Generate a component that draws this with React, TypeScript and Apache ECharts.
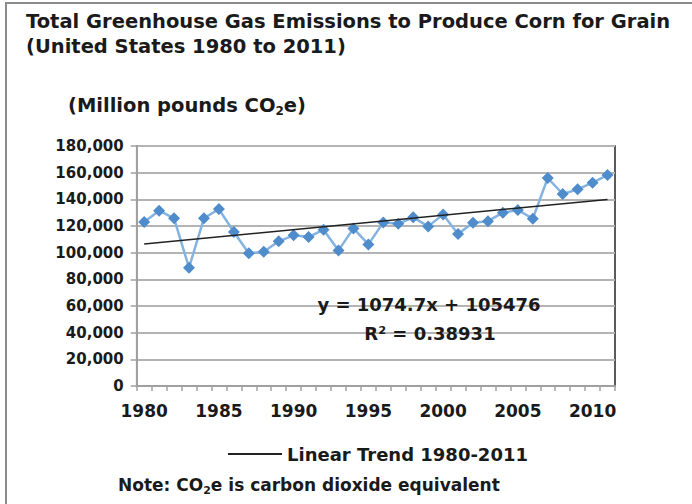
import React, { useEffect, useRef } from "react";
import * as echarts from "echarts";

const years: string[] = [
  "1980", "1981", "1982", "1983", "1984", "1985", "1986", "1987", "1988", "1989",
  "1990", "1991", "1992", "1993", "1994", "1995", "1996", "1997", "1998", "1999",
  "2000", "2001", "2002", "2003", "2004", "2005", "2006", "2007", "2008", "2009",
  "2010", "2011",
];

const emissions: number[] = [
  123000, 131500, 125800, 88700, 125800, 132700, 115500, 99500, 100700, 108500,
  113000, 111700, 117200, 101700, 118200, 106200, 122700, 121700, 126500, 119700,
  128700, 114000, 122500, 123600, 130000, 132000, 125500, 156000, 144000, 147500,
  152500, 158200,
];

// Linear trend endpoints (from y = 1074.7x + 105476, x = 1 and x = 32)
const trendStart = 106551;
const trendEnd = 139866;

const yTicks = { min: 0, max: 180000, interval: 20000 };

const titleLines = [
  "Total Greenhouse Gas Emissions to Produce Corn for Grain",
  "(United States 1980 to 2011)",
];
const equationText = "y = 1074.7x + 105476";
const r2Text = "R² = 0.38931";
const trendName = "Linear Trend 1980-2011";

const FONT = "'DejaVu Sans', 'Liberation Sans', Arial, sans-serif";
const TXT = "#1a1a1a";

export default function App() {
  const ref = useRef<HTMLDivElement>(null);

  useEffect(() => {
    if (!ref.current) return;
    const chart = echarts.init(ref.current, null, { renderer: "svg" });
    const last = years.length - 1;
    const trendData = years.map((_, i) =>
      i === 0 ? trendStart : i === last ? trendEnd : null
    );

    chart.setOption({
      animation: false,
      backgroundColor: "#ffffff",
      textStyle: { fontFamily: FONT },
      grid: {
        left: 136.7,
        right: 77,
        top: 146,
        bottom: 118,
        show: true,
        borderColor: "#262626",
        borderWidth: 1.5,
        backgroundColor: "transparent",
      },
      legend: {
        data: [{ name: trendName, icon: "rect" }],
        left: 228,
        top: 445,
        padding: 0,
        itemWidth: 54,
        itemHeight: 2,
        itemGap: 6,
        textStyle: {
          fontFamily: FONT,
          fontWeight: "bold",
          fontSize: 18,
          color: TXT,
        },
      },
      xAxis: {
        type: "category",
        data: years,
        boundaryGap: true,
        axisLine: { show: true, lineStyle: { color: "#a0a0a0", width: 2 } },
        axisTick: {
          show: true,
          interval: 0,
          length: 5,
          lineStyle: { color: "#a0a0a0", width: 1.5 },
        },
        axisLabel: {
          interval: 4,
          margin: 16,
          fontFamily: FONT,
          fontWeight: "bold",
          fontSize: 17,
          color: TXT,
        },
        splitLine: { show: false },
      },
      yAxis: {
        type: "value",
        min: yTicks.min,
        max: yTicks.max,
        interval: yTicks.interval,
        axisLine: { show: true, lineStyle: { color: "#a0a0a0", width: 2 } },
        axisTick: { show: true, length: 6, lineStyle: { color: "#a0a0a0", width: 1.5 } },
        axisLabel: {
          margin: 13,
          fontFamily: FONT,
          fontWeight: "bold",
          fontSize: 15,
          color: TXT,
          formatter: (v: number) => v.toLocaleString("en-US"),
        },
        splitLine: { show: true, lineStyle: { color: "#b4b4b4", width: 2 } },
      },
      series: [
        {
          name: "Emissions",
          type: "line",
          data: emissions,
          symbol: "diamond",
          symbolSize: 12,
          showAllSymbol: true,
          itemStyle: { color: "#4f8ccb" },
          lineStyle: { color: "#85b3e0", width: 2.5 },
          z: 3,
        },
        {
          name: trendName,
          type: "line",
          data: trendData,
          connectNulls: true,
          symbol: "none",
          itemStyle: { color: "#222222" },
          lineStyle: { color: "#222222", width: 1.5 },
          z: 4,
        },
      ],
      graphic: [
        {
          type: "rect",
          shape: { x: 6, y: 3, width: 720, height: 540 },
          style: { fill: "none", stroke: "#8c8c8c", lineWidth: 2 },
          silent: true,
          z: -10,
        },
        {
          type: "text",
          left: 26,
          top: 11,
          style: {
            text: titleLines[0],
            fontFamily: FONT,
            fontWeight: "bold",
            fontSize: 19.5,
            fill: TXT,
          },
        },
        {
          type: "text",
          left: 26,
          top: 36,
          style: {
            text: titleLines[1],
            fontFamily: FONT,
            fontWeight: "bold",
            fontSize: 19.5,
            fill: TXT,
          },
        },
        {
          type: "text",
          left: 68,
          top: 95,
          style: {
            text: "{b|(Million pounds CO}{s|2}{b|e)}",
            rich: {
              b: {
                fontFamily: FONT,
                fontWeight: "bold",
                fontSize: 19.5,
                lineHeight: 24,
                fill: TXT,
                color: TXT,
              },
              s: {
                fontFamily: FONT,
                fontWeight: "bold",
                fontSize: 12,
                lineHeight: 15,
                verticalAlign: "bottom",
                fill: TXT,
                color: TXT,
              },
            },
          },
        },
        {
          type: "text",
          x: 429,
          y: 304,
          style: {
            text: equationText,
            fontFamily: FONT,
            fontWeight: "bold",
            fontSize: 18,
            fill: TXT,
            align: "center",
            verticalAlign: "middle",
          },
          z: 10,
        },
        {
          type: "text",
          x: 430,
          y: 333,
          style: {
            text: r2Text,
            fontFamily: FONT,
            fontWeight: "bold",
            fontSize: 18,
            fill: TXT,
            align: "center",
            verticalAlign: "middle",
          },
          z: 10,
        },
        {
          type: "text",
          left: 118,
          top: 476,
          style: {
            text: "{b|Note: CO}{s|2}{b|e is carbon dioxide equivalent}",
            rich: {
              b: {
                fontFamily: FONT,
                fontWeight: "bold",
                fontSize: 17,
                lineHeight: 22,
                fill: TXT,
                color: TXT,
              },
              s: {
                fontFamily: FONT,
                fontWeight: "bold",
                fontSize: 11,
                lineHeight: 14,
                verticalAlign: "bottom",
                fill: TXT,
                color: TXT,
              },
            },
          },
        },
      ],
    });

    return () => {
      chart.dispose();
    };
  }, []);

  return (
    <div
      ref={ref}
      style={{ position: "fixed", left: 0, top: 0, width: 692, height: 504 }}
    />
  );
}
